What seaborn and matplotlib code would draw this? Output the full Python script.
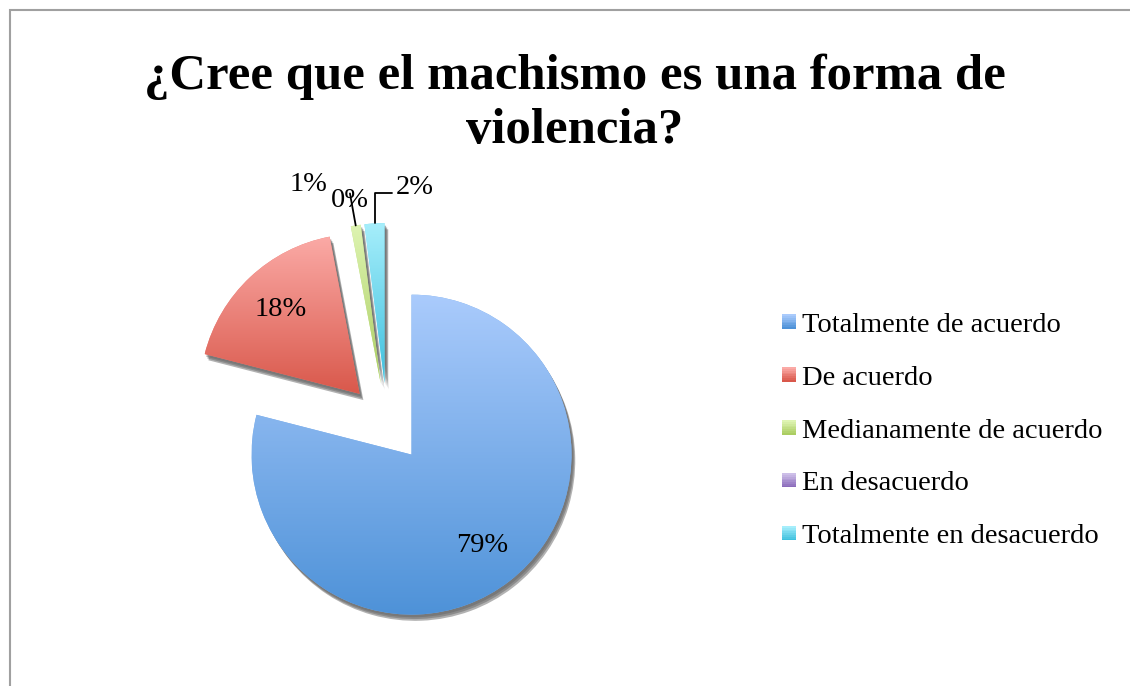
import numpy as np
import matplotlib
matplotlib.use("Agg")
import matplotlib.pyplot as plt
import seaborn as sns
from matplotlib.colors import LinearSegmentedColormap, to_rgb
from matplotlib.patches import Patch, Rectangle, Shadow
from matplotlib.legend_handler import HandlerBase

# ---- data ----
categories = ["Totalmente de acuerdo", "De acuerdo", "Medianamente de acuerdo",
              "En desacuerdo", "Totalmente en desacuerdo"]
values = [79, 18, 1, 0, 2]
pct_labels = ["79%", "18%", "1%", "0%", "2%"]
title = "¿Cree que el machismo es una forma de\nviolencia?"

# ---- styling ----
top_colors = ["#aacbfc", "#fbaaa6", "#def4b2", "#cdbfe8", "#a6eefb"]
bottom_colors = ["#4e92d8", "#d9584b", "#abcd62", "#8b6bbb", "#3ec0de"]
mid_colors = [tuple((np.array(to_rgb(a)) + np.array(to_rgb(b))) / 2)
              for a, b in zip(top_colors, bottom_colors)]

sns.set_theme(style="white")
plt.rcParams['font.family'] = ['Liberation Serif', 'DejaVu Serif']
plt.rcParams['text.color'] = 'black'

W, H = 1130, 686
fig = plt.figure(figsize=(W / 100, H / 100), dpi=100)
fig.patch.set_facecolor("white")

ax = fig.add_axes([131 / W, 7 / H, 512 / W, 512 / H])
wedges, _ = ax.pie(values, colors=mid_colors, startangle=90, counterclock=False,
                   explode=[0.25] * len(values), radius=1,
                   wedgeprops=dict(linewidth=0))

# shadows and gradient fills
for i, w in enumerate(wedges):
    for k, (off, a) in enumerate([(0.028, 0.07), (0.02, 0.09), (0.012, 0.12)]):
        sh = Shadow(w, off * 0.6, -off)
        sh.set_facecolor((0.4, 0.4, 0.4, a))
        sh.set_edgecolor("none")
        sh.set_zorder(0.5)
        ax.add_patch(sh)
    w.set_zorder(1)
    if values[i] == 0:
        continue
    ext = w.get_path().get_extents()
    cmap = LinearSegmentedColormap.from_list(f"g{i}", [bottom_colors[i], top_colors[i]])
    grad = np.linspace(1, 0, 256).reshape(-1, 1)
    im = ax.imshow(grad, cmap=cmap, vmin=0, vmax=1, aspect="auto",
                   extent=[ext.x0, ext.x1, ext.y0, ext.y1], zorder=2,
                   interpolation="bilinear")
    im.set_clip_path(w)

fs = 20.5
# inside labels for large slices
for i in (0, 1):
    w = wedges[i]
    mid = np.deg2rad((w.theta1 + w.theta2) / 2)
    cx, cy = w.center
    ax.text(cx + 0.72 * np.cos(mid), cy + 0.72 * np.sin(mid), pct_labels[i],
            ha="center", va="center", fontsize=fs, color="black", zorder=5)

def arc_mid(w):
    mid = np.deg2rad((w.theta1 + w.theta2) / 2)
    cx, cy = w.center
    return cx + w.r * np.cos(mid), cy + w.r * np.sin(mid)

# outside labels for thin slices
offsets = {2: (-0.295, 0.255), 3: (-0.074, 0.15), 4: (0.254, 0.227)}
for i, (dx, dy) in offsets.items():
    x0, y0 = arc_mid(wedges[i])
    ax.text(x0 + dx, y0 + dy, pct_labels[i], ha="center", va="center",
            fontsize=fs, color="black", zorder=5)

# leader lines
gx, gy = arc_mid(wedges[2])
ax.plot([gx, gx - 0.036], [gy, gy + 0.2], color="black", lw=1.3, zorder=4)
cx_, cy_ = arc_mid(wedges[4])
ax.plot([cx_ + 0.004, cx_ + 0.004, cx_ + 0.11], [cy_, cy_ + 0.19, cy_ + 0.19],
        color="black", lw=1.3, zorder=4)

ax.set_xlim(-1.6, 1.6)
ax.set_ylim(-1.6, 1.6)
ax.set_aspect("equal")
ax.axis("off")

# title
fig.text(575 / W, 1 - 104 / H, title, ha="center", va="center",
         fontsize=36.5, fontweight="bold", linespacing=1.24, color="black")

# legend with gradient squares
class GradHandler(HandlerBase):
    def __init__(self, top, bottom):
        super().__init__()
        self.top, self.bottom = top, bottom

    def create_artists(self, legend, orig_handle, xdescent, ydescent, width,
                       height, fontsize, trans):
        n = 8
        t = np.array(to_rgb(self.top))
        b = np.array(to_rgb(self.bottom))
        arts = []
        side = min(width, height)
        x0 = -xdescent
        y0 = -ydescent + (height - side) / 2
        for k in range(n):
            f = k / (n - 1)
            c = b * (1 - f) + t * f
            arts.append(Rectangle((x0, y0 + side * k / n), side, side / n,
                                  facecolor=c, edgecolor="none", transform=trans))
        return arts

handles = [Patch(facecolor=c) for c in mid_colors]
hmap = {h: GradHandler(t, b) for h, t, b in zip(handles, top_colors, bottom_colors)}
leg = fig.legend(handles, categories, handler_map=hmap, loc="center left",
                 bbox_to_anchor=(782 / W, 1 - 431 / H), frameon=False, fontsize=fs,
                 handlelength=0.5, handleheight=0.5, handletextpad=0.2,
                 labelspacing=0.98, borderpad=0, borderaxespad=0)
for t in leg.get_texts():
    t.set_color("black")

# outer frame
fig.add_artist(Rectangle((10 / W, -0.1), 1.2, 1.1 - 10 / H, transform=fig.transFigure,
                         fill=False, edgecolor="#a0a0a0", lw=1.5))

fig.savefig("out.png", dpi=100, facecolor="white")
